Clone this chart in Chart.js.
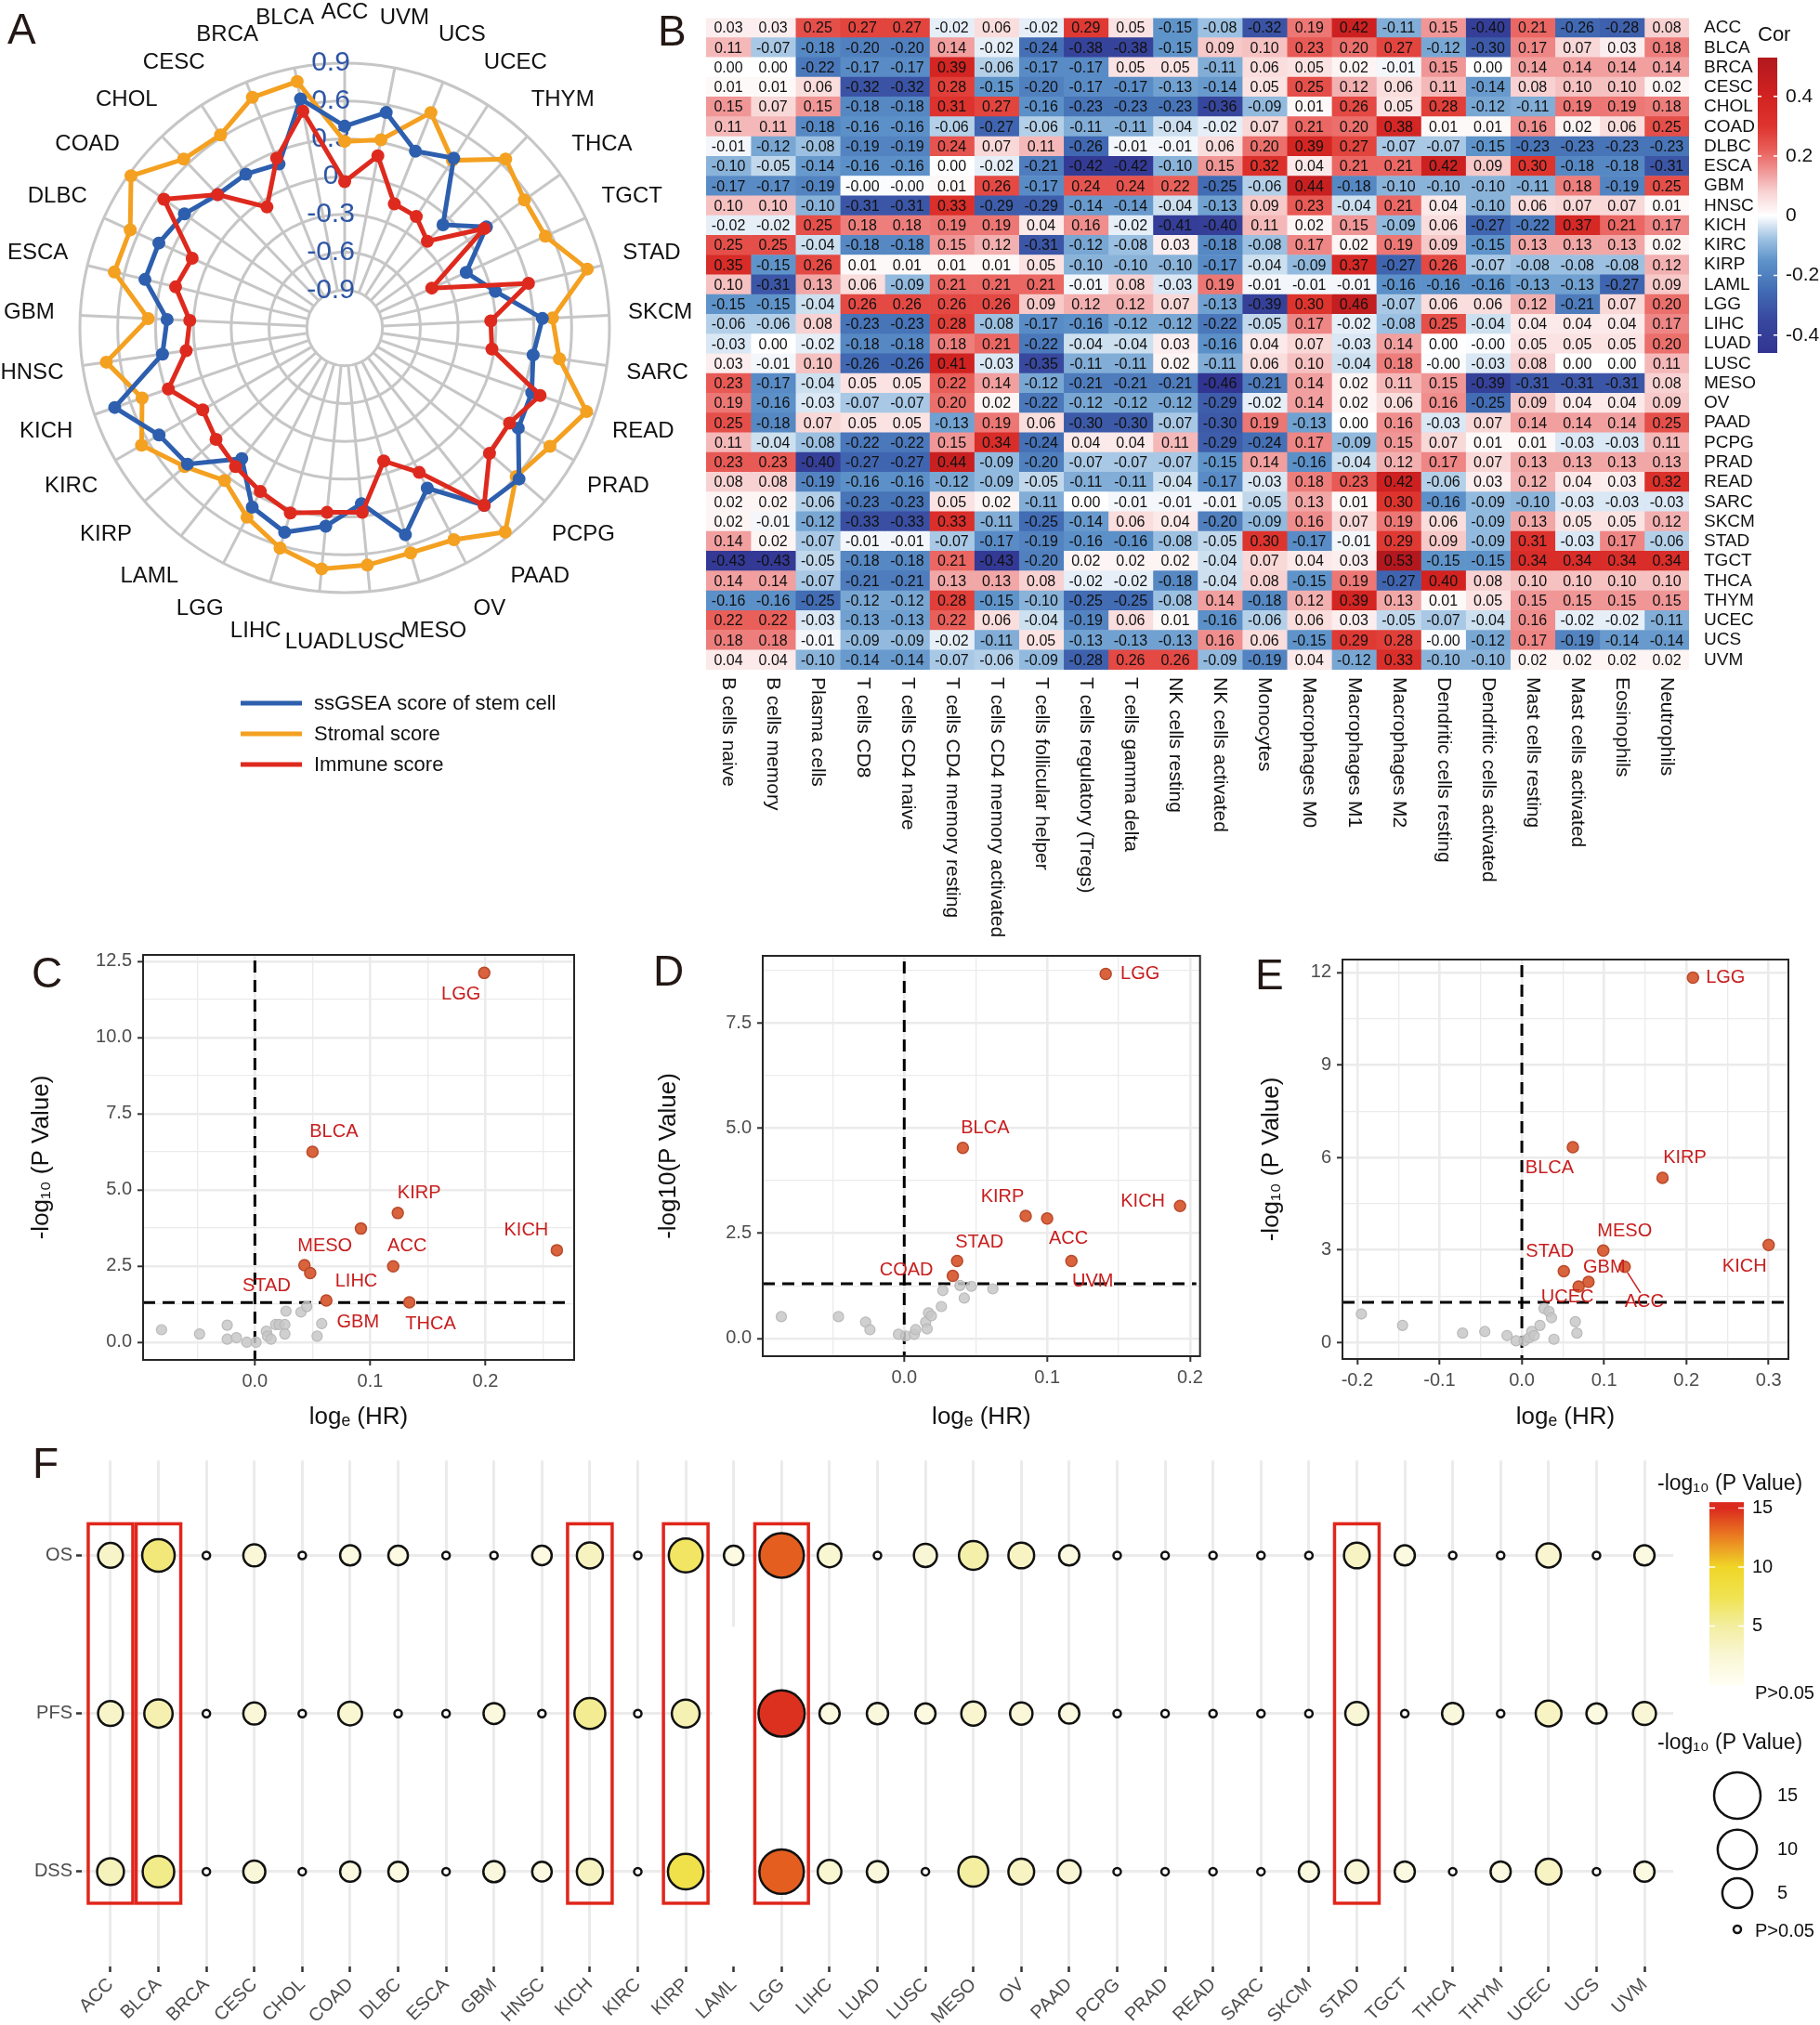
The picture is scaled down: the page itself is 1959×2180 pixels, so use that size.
<!DOCTYPE html>
<html>
<head>
<meta charset="utf-8">
<title>Stemness, immune infiltration and survival across cancers</title>
<script src="https://cdn.jsdelivr.net/npm/chart.js@4.4.1/dist/chart.umd.min.js"></script>
<style>
  html, body { margin: 0; padding: 0; background: #fff; }
  body { position: relative; width: 1959px; height: 2180px; overflow: hidden; font-family: 'Liberation Sans', Arial, sans-serif; }
  canvas { position: absolute; }
  .tag { position: absolute; z-index: 2; font-size: 46px; line-height: 1; color: #231815; }
</style>
</head>
<body>
<canvas id="radar" width="760" height="860" style="left:0;top:0"></canvas>
<canvas id="heat" width="1219" height="1010" style="left:740px;top:0"></canvas>
<canvas id="volC" width="640" height="545" style="left:0;top:1000px"></canvas>
<canvas id="volD" width="660" height="545" style="left:640px;top:1000px"></canvas>
<canvas id="volE" width="659" height="545" style="left:1300px;top:1000px"></canvas>
<canvas id="bubble" width="1959" height="635" style="left:0;top:1545px"></canvas>

<div class="tag" style="left:8px;top:8px">A</div>
<div class="tag" style="left:708px;top:10px">B</div>
<div class="tag" style="left:34px;top:1024px">C</div>
<div class="tag" style="left:703px;top:1022px">D</div>
<div class="tag" style="left:1351px;top:1026px">E</div>
<div class="tag" style="left:35px;top:1552px">F</div>

<script>
const FONT = "'Liberation Sans', Arial, sans-serif";
Chart.defaults.font.family = FONT;
Chart.defaults.color = '#4D4D4D';
Chart.defaults.animation = false;
Chart.defaults.plugins.legend.display = false;
Chart.defaults.plugins.tooltip.enabled = false;

// ---- shared categories ----
const cancers = ['ACC','BLCA','BRCA','CESC','CHOL','COAD','DLBC','ESCA','GBM','HNSC','KICH',
  'KIRC','KIRP','LAML','LGG','LIHC','LUAD','LUSC','MESO','OV','PAAD','PCPG','PRAD','READ',
  'SARC','SKCM','STAD','TGCT','THCA','THYM','UCEC','UCS','UVM'];

// ---- A: correlation with stemness (alphabetical order) ----
const stemScore = [0.40,0.65,0.20,0.25,0.26,0.36,0.42,0.43,0.21,0.26,0.73,0.50,0.45,0.12,0.40,0.49,
  0.38,0.20,0.51,0.23,0.59,0.63,0.39,0.37,0.31,0.37,0.03,-0.14,0.18,-0.07,0.40,0.31,0.54];
const stromalScore = [0.28,0.79,0.77,0.62,0.65,0.88,0.67,0.68,0.36,0.71,0.50,0.66,0.48,0.34,0.49,0.62,
  0.72,0.69,0.66,0.69,0.86,0.60,0.68,0.83,0.52,0.45,0.78,0.55,0.55,0.65,0.38,0.64,0.32];
const immuneScore = [-0.04,0.55,0.25,-0.06,0.26,0.56,0.13,0.18,0.03,0.07,0.28,0.10,0.15,0.20,0.26,0.33,
  0.27,0.27,-0.10,0.09,0.59,0.32,0.31,0.44,-0.02,-0.04,0.30,-0.44,0.16,-0.25,-0.15,-0.14,0.19];
const radarTicks = [-0.9,-0.6,-0.3,0,0.3,0.6,0.9];

// ---- B: correlation with immune cell fractions ----
const cellTypes = ['B cells naive','B cells memory','Plasma cells','T cells CD8','T cells CD4 naive',
  'T cells CD4 memory resting','T cells CD4 memory activated','T cells follicular helper',
  'T cells regulatory (Tregs)','T cells gamma delta','NK cells resting','NK cells activated','Monocytes',
  'Macrophages M0','Macrophages M1','Macrophages M2','Dendritic cells resting','Dendritic cells activated',
  'Mast cells resting','Mast cells activated','Eosinophils','Neutrophils'];
const corrMatrix = [
  [0.03,0.03,0.25,0.27,0.27,-0.02,0.06,-0.02,0.29,0.05,-0.15,-0.08,-0.32,0.19,0.42,-0.11,0.15,-0.40,0.21,-0.26,-0.28,0.08],
  [0.11,-0.07,-0.18,-0.20,-0.20,0.14,-0.02,-0.24,-0.38,-0.38,-0.15,0.09,0.10,0.23,0.20,0.27,-0.12,-0.30,0.17,0.07,0.03,0.18],
  [0.00,0.00,-0.22,-0.17,-0.17,0.39,-0.06,-0.17,-0.17,0.05,0.05,-0.11,0.06,0.05,0.02,-0.01,0.15,0.00,0.14,0.14,0.14,0.14],
  [0.01,0.01,0.06,-0.32,-0.32,0.28,-0.15,-0.20,-0.17,-0.17,-0.13,-0.14,0.05,0.25,0.12,0.06,0.11,-0.14,0.08,0.10,0.10,0.02],
  [0.15,0.07,0.15,-0.18,-0.18,0.31,0.27,-0.16,-0.23,-0.23,-0.23,-0.36,-0.09,0.01,0.26,0.05,0.28,-0.12,-0.11,0.19,0.19,0.18],
  [0.11,0.11,-0.18,-0.16,-0.16,-0.06,-0.27,-0.06,-0.11,-0.11,-0.04,-0.02,0.07,0.21,0.20,0.38,0.01,0.01,0.16,0.02,0.06,0.25],
  [-0.01,-0.12,-0.08,-0.19,-0.19,0.24,0.07,0.11,-0.26,-0.01,-0.01,0.06,0.20,0.39,0.27,-0.07,-0.07,-0.15,-0.23,-0.23,-0.23,-0.23],
  [-0.10,-0.05,-0.14,-0.16,-0.16,0.00,-0.02,-0.21,-0.42,-0.42,-0.10,0.15,0.32,0.04,0.21,0.21,0.42,0.09,0.30,-0.18,-0.18,-0.31],
  [-0.17,-0.17,-0.19,-0.004,-0.004,0.01,0.26,-0.17,0.24,0.24,0.22,-0.25,-0.06,0.44,-0.18,-0.10,-0.10,-0.10,-0.11,0.18,-0.19,0.25],
  [0.10,0.10,-0.10,-0.31,-0.31,0.33,-0.29,-0.29,-0.14,-0.14,-0.04,-0.13,0.09,0.23,-0.04,0.21,0.04,-0.10,0.06,0.07,0.07,0.01],
  [-0.02,-0.02,0.25,0.18,0.18,0.19,0.19,0.04,0.16,-0.02,-0.41,-0.40,0.11,0.02,0.15,-0.09,0.06,-0.27,-0.22,0.37,0.21,0.17],
  [0.25,0.25,-0.04,-0.18,-0.18,0.15,0.12,-0.31,-0.12,-0.08,0.03,-0.18,-0.08,0.17,0.02,0.19,0.09,-0.15,0.13,0.13,0.13,0.02],
  [0.35,-0.15,0.26,0.01,0.01,0.01,0.01,0.05,-0.10,-0.10,-0.10,-0.17,-0.04,-0.09,0.37,-0.27,0.26,-0.07,-0.08,-0.08,-0.08,0.12],
  [0.10,-0.31,0.13,0.06,-0.09,0.21,0.21,0.21,-0.01,0.08,-0.03,0.19,-0.01,-0.01,-0.01,-0.16,-0.16,-0.16,-0.13,-0.13,-0.27,0.09],
  [-0.15,-0.15,-0.04,0.26,0.26,0.26,0.26,0.09,0.12,0.12,0.07,-0.13,-0.39,0.30,0.46,-0.07,0.06,0.06,0.12,-0.21,0.07,0.20],
  [-0.06,-0.06,0.08,-0.23,-0.23,0.28,-0.08,-0.17,-0.16,-0.12,-0.12,-0.22,-0.05,0.17,-0.02,-0.08,0.25,-0.04,0.04,0.04,0.04,0.17],
  [-0.03,0.00,-0.02,-0.18,-0.18,0.18,0.21,-0.22,-0.04,-0.04,0.03,-0.16,0.04,0.07,-0.03,0.14,0.00,-0.004,0.05,0.05,0.05,0.20],
  [0.03,-0.01,0.10,-0.26,-0.26,0.41,-0.03,-0.35,-0.11,-0.11,0.02,-0.11,0.06,0.10,-0.04,0.18,-0.004,-0.03,0.08,0.00,0.00,0.11],
  [0.23,-0.17,-0.04,0.05,0.05,0.22,0.14,-0.12,-0.21,-0.21,-0.21,-0.46,-0.21,0.14,0.02,0.11,0.15,-0.39,-0.31,-0.31,-0.31,0.08],
  [0.19,-0.16,-0.03,-0.07,-0.07,0.20,0.02,-0.22,-0.12,-0.12,-0.12,-0.29,-0.02,0.14,0.02,0.06,0.16,-0.25,0.09,0.04,0.04,0.09],
  [0.25,-0.18,0.07,0.05,0.05,-0.13,0.19,0.06,-0.30,-0.30,-0.07,-0.30,0.19,-0.13,0.00,0.16,-0.03,0.07,0.14,0.14,0.14,0.25],
  [0.11,-0.04,-0.08,-0.22,-0.22,0.15,0.34,-0.24,0.04,0.04,0.11,-0.29,-0.24,0.17,-0.09,0.15,0.07,0.01,0.01,-0.03,-0.03,0.11],
  [0.23,0.23,-0.40,-0.27,-0.27,0.44,-0.09,-0.20,-0.07,-0.07,-0.07,-0.15,0.14,-0.16,-0.04,0.12,0.17,0.07,0.13,0.13,0.13,0.13],
  [0.08,0.08,-0.19,-0.16,-0.16,-0.12,-0.09,-0.05,-0.11,-0.11,-0.04,-0.17,-0.03,0.18,0.23,0.42,-0.06,0.03,0.12,0.04,0.03,0.32],
  [0.02,0.02,-0.06,-0.23,-0.23,0.05,0.02,-0.11,0.00,-0.01,-0.01,-0.01,-0.05,0.13,0.01,0.30,-0.16,-0.09,-0.10,-0.03,-0.03,-0.03],
  [0.02,-0.01,-0.12,-0.33,-0.33,0.33,-0.11,-0.25,-0.14,0.06,0.04,-0.20,-0.09,0.16,0.07,0.19,0.06,-0.09,0.13,0.05,0.05,0.12],
  [0.14,0.02,-0.07,-0.01,-0.01,-0.07,-0.17,-0.19,-0.16,-0.16,-0.08,-0.05,0.30,-0.17,-0.01,0.29,0.09,-0.09,0.31,-0.03,0.17,-0.06],
  [-0.43,-0.43,-0.05,-0.18,-0.18,0.21,-0.43,-0.20,0.02,0.02,0.02,-0.04,0.07,0.04,0.03,0.53,-0.15,-0.15,0.34,0.34,0.34,0.34],
  [0.14,0.14,-0.07,-0.21,-0.21,0.13,0.13,0.08,-0.02,-0.02,-0.18,-0.04,0.08,-0.15,0.19,-0.27,0.40,0.08,0.10,0.10,0.10,0.10],
  [-0.16,-0.16,-0.25,-0.12,-0.12,0.28,-0.15,-0.10,-0.25,-0.25,-0.08,0.14,-0.18,0.12,0.39,0.13,0.01,0.05,0.15,0.15,0.15,0.15],
  [0.22,0.22,-0.03,-0.13,-0.13,0.22,0.06,-0.04,-0.19,0.06,0.01,-0.16,-0.06,0.06,0.03,-0.05,-0.07,-0.04,0.16,-0.02,-0.02,-0.11],
  [0.18,0.18,-0.01,-0.09,-0.09,-0.02,-0.11,0.05,-0.13,-0.13,-0.13,0.16,0.06,-0.15,0.29,0.28,-0.004,-0.12,0.17,-0.19,-0.14,-0.14],
  [0.04,0.04,-0.10,-0.14,-0.14,-0.07,-0.06,-0.09,-0.28,0.26,0.26,-0.09,-0.19,0.04,-0.12,0.33,-0.10,-0.10,0.02,0.02,0.02,0.02]
];
const corrTicks = [0.4, 0.2, 0, -0.2, -0.4];

// ---- C/D/E: log(HR) vs -log10(P) ----
const cSigNames = ['LGG','BLCA','KIRP','LIHC','KICH','MESO','STAD','ACC','GBM','THCA'];
const cSigHr    = [0.199,0.050,0.124,0.092,0.262,0.043,0.048,0.120,0.062,0.134];
const cSigLogP  = [12.12,6.25,4.24,3.73,3.02,2.53,2.27,2.49,1.37,1.31];
const cNsHr   = [-0.081,-0.048,-0.024,-0.024,-0.016,-0.007,0.001,0.010,0.011,0.014,0.018,0.021,0.026,0.026,0.027,0.040,0.045,0.054,0.058];
const cNsLogP = [0.41,0.27,0.56,0.10,0.15,0.00,0.00,0.36,0.20,0.10,0.58,0.58,0.58,0.27,1.02,0.99,1.17,0.20,0.61];

const dSigNames = ['LGG','BLCA','KICH','KIRP','ACC','STAD','UVM','COAD'];
const dSigHr    = [0.141,0.041,0.193,0.085,0.100,0.037,0.117,0.034];
const dSigLogP  = [8.66,4.53,3.15,2.91,2.85,1.84,1.84,1.49];
const dNsHr   = [-0.086,-0.046,-0.027,-0.024,-0.004,0.001,0.007,0.008,0.015,0.016,0.017,0.019,0.026,0.027,0.039,0.042,0.047,0.062];
const dNsLogP = [0.52,0.52,0.39,0.21,0.10,0.06,0.10,0.21,0.39,0.23,0.61,0.54,0.76,1.14,1.26,0.96,1.24,1.18];

const eSigNames = ['LGG','BLCA','KIRP','KICH','MESO','ACC','STAD','GBM','UCEC'];
const eSigHr    = [0.208,0.062,0.171,0.300,0.099,0.125,0.051,0.081,0.069];
const eSigLogP  = [11.83,6.33,5.34,3.16,2.98,2.45,2.31,1.96,1.81];
const eNsHr   = [-0.195,-0.145,-0.072,-0.045,-0.018,-0.007,0.003,0.009,0.012,0.015,0.022,0.027,0.033,0.036,0.039,0.065,0.067];
const eNsLogP = [0.92,0.55,0.30,0.35,0.22,0.05,0.05,0.15,0.35,0.22,0.55,1.10,1.00,0.80,0.10,0.67,0.30];

// ---- F: -log10(P) per survival end point, 0 = P>0.05, null = no data ----
const survRows = ['OS', 'PFS', 'DSS'];
const osLogP  = [3.0,6.2,1.3,2.1,0,1.6,1.45,0,0,1.45,3.4,0,6.9,1.45,13.5,2.6,0,2.4,4.5,3.3,1.6,1.3,0,0,1.3,0,3.3,1.6,1.3,0,2.75,0,1.6];
const pfsLogP = [3.0,4.3,0,2.1,0,2.6,0,0,1.8,0,5.4,1.3,4.1,null,14.8,1.6,1.9,1.6,2.75,2.2,1.6,1.3,0,0,0,0,2.4,0,1.9,0,3.3,1.6,2.4];
const dssLogP = [3.7,5.7,1.3,2.1,0,1.6,1.45,0,1.9,1.45,3.4,0,7.8,null,13.5,2.6,1.9,0,5.0,3.3,2.4,0,0,0,0,1.6,2.4,1.6,0,1.6,3.3,0,1.6];
const highlighted = ['ACC','BLCA','KICH','KIRP','LGG','STAD'];
const sizeKeys = [15, 10, 5];
const colorKeys = [15, 10, 5];

// ---- colour helpers ----
function rampColor(stops, v) {
  if (v <= stops[0][0]) return 'rgb(' + stops[0][1].join(',') + ')';
  for (let i = 1; i < stops.length; i++) {
    if (v <= stops[i][0]) {
      const [v0, c0] = stops[i - 1], [v1, c1] = stops[i];
      const t = (v - v0) / (v1 - v0);
      return 'rgb(' + c0.map((c, k) => Math.round(c + (c1[k] - c) * t)).join(',') + ')';
    }
  }
  return 'rgb(' + stops[stops.length - 1][1].join(',') + ')';
}
const corrStops = [[-0.46,[49,52,145]],[-0.35,[56,72,158]],[-0.25,[66,108,180]],[-0.15,[95,148,202]],
  [-0.08,[155,192,225]],[0,[255,255,255]],[0.08,[248,210,210]],[0.15,[240,150,150]],[0.22,[233,95,90]],
  [0.3,[222,52,46]],[0.4,[210,35,33]],[0.53,[178,24,30]]];
const pStops = [[0,[255,255,244]],[2.5,[249,246,212]],[5,[243,238,160]],[7.5,[240,226,80]],
  [10,[240,214,40]],[12.5,[234,128,34]],[15,[219,42,30]]];
const corrColor = v => rampColor(corrStops, v);
const pColor = v => rampColor(pStops, v);

// ================= A: radar =================
const radarOrder = [0].concat(cancers.map((_, i) => i).slice(1).reverse());
const radarSeries = [
  { label: 'ssGSEA score of stem cell', values: stemScore, color: '#2D5FAE', order: 2 },
  { label: 'Stromal score', values: stromalScore, color: '#F4A020', order: 3 },
  { label: 'Immune score', values: immuneScore, color: '#DE2A1E', order: 1 }
];

const radarDecor = {
  id: 'radarDecor',
  beforeDraw(chart) {
    // spokes run from the inner ring to the outer ring only
    const s = chart.scales.r, ctx = chart.ctx;
    const r0 = s.getDistanceFromCenterForValue(radarTicks[0]);
    const r1 = s.getDistanceFromCenterForValue(radarTicks[radarTicks.length - 1]);
    ctx.save();
    ctx.strokeStyle = '#C6C6C6';
    ctx.lineWidth = 3;
    chart.data.labels.forEach((_, i) => {
      const a = s.getPointPosition(i, r0), b = s.getPointPosition(i, r1);
      ctx.beginPath(); ctx.moveTo(a.x, a.y); ctx.lineTo(b.x, b.y); ctx.stroke();
    });
    ctx.restore();
  },
  afterDraw(chart) {
    const s = chart.scales.r, ctx = chart.ctx;
    const dist = s.getDistanceFromCenterForValue(radarTicks[radarTicks.length - 1]) + 55;
    ctx.save();
    ctx.font = '24px ' + FONT;
    ctx.fillStyle = '#111';
    ctx.textAlign = 'center';
    ctx.textBaseline = 'middle';
    chart.data.labels.forEach((lab, i) => {
      const p = s.getPointPosition(i, dist);
      ctx.fillText(lab, p.x, p.y);
    });
    // legend
    ctx.font = '22px ' + FONT;
    ctx.textAlign = 'left';
    ctx.lineWidth = 5;
    chart.data.datasets.forEach((ds, i) => {
      const y = 757 + i * 33;
      ctx.strokeStyle = ds.borderColor;
      ctx.beginPath(); ctx.moveTo(259, y); ctx.lineTo(325, y); ctx.stroke();
      ctx.fillStyle = '#111';
      ctx.fillText(ds.label, 338, y + 1);
    });
    ctx.restore();
  }
};

new Chart(document.getElementById('radar'), {
  type: 'radar',
  data: {
    labels: radarOrder.map(i => cancers[i]),
    datasets: radarSeries.map(s => ({
      label: s.label,
      data: radarOrder.map(i => s.values[i]),
      borderColor: s.color,
      backgroundColor: s.color,
      pointBackgroundColor: s.color,
      pointBorderWidth: 0,
      pointRadius: 7,
      borderWidth: 5,
      fill: false,
      order: s.order
    }))
  },
  options: {
    responsive: false,
    layout: { padding: { left: 71, right: 89, top: 46, bottom: 199 } },
    scales: {
      r: {
        min: -1.2,
        max: 0.9,
        ticks: {
          stepSize: 0.3,
          color: '#2E55A5',
          font: { family: "'Liberation Sans Narrow', " + FONT, size: 30 },
          showLabelBackdrop: false,
          backdropPadding: 0,
          // ggradar puts the value labels just left of the vertical spoke
          callback: v => v < -1.0 ? '' : (Math.abs(v) < 1e-6 ? '0' : v.toFixed(1)) + '\u2002\u2002'
        },
        grid: { circular: true, color: '#C6C6C6', lineWidth: 3 },
        angleLines: { display: false },
        pointLabels: { display: false }
      }
    }
  },
  plugins: [radarDecor]
});

// ================= B: heatmap =================
const heatDecor = {
  id: 'heatDecor',
  afterDatasetsDraw(chart) {
    const ctx = chart.ctx;
    ctx.save();
    ctx.font = '16px ' + FONT;
    ctx.fillStyle = '#111';
    ctx.textAlign = 'center';
    ctx.textBaseline = 'middle';
    chart.data.datasets.forEach((ds, c) => {
      chart.getDatasetMeta(c).data.forEach((bar, r) => {
        ctx.fillText(corrMatrix[r][c].toFixed(2), (bar.x + bar.base) / 2, bar.y + 1);
      });
    });
    ctx.restore();
  },
  afterDraw(chart) {
    const ctx = chart.ctx, x = chart.scales.x, area = chart.chartArea;
    ctx.save();
    // column labels, reading downwards
    ctx.font = '21px ' + FONT;
    ctx.fillStyle = '#111';
    ctx.textAlign = 'left';
    ctx.textBaseline = 'middle';
    cellTypes.forEach((name, c) => {
      ctx.save();
      ctx.translate(x.getPixelForValue(c + 0.5), area.bottom + 8);
      ctx.rotate(Math.PI / 2);
      ctx.fillText(name, 0, 0);
      ctx.restore();
    });
    // colour bar
    const flat = corrMatrix.flat();
    const vmax = Math.max(...flat), vmin = Math.min(...flat);
    const bx = 1152, bw = 21, top = 62, bottom = 380;
    const yOf = v => top + (vmax - v) / (vmax - vmin) * (bottom - top);
    const grad = ctx.createLinearGradient(0, top, 0, bottom);
    corrStops.forEach(([v, c]) => {
      const t = Math.min(1, Math.max(0, (vmax - v) / (vmax - vmin)));
      grad.addColorStop(t, 'rgb(' + c.join(',') + ')');
    });
    ctx.fillStyle = grad;
    ctx.fillRect(bx, top, bw, bottom - top);
    ctx.strokeStyle = '#fff';
    ctx.lineWidth = 1.5;
    ctx.font = '21px ' + FONT;
    ctx.fillStyle = '#111';
    corrTicks.forEach(v => {
      const y = yOf(v);
      ctx.beginPath(); ctx.moveTo(bx, y); ctx.lineTo(bx + 4, y); ctx.moveTo(bx + bw - 4, y); ctx.lineTo(bx + bw, y); ctx.stroke();
      ctx.fillText(v === 0 ? '0' : v.toFixed(1), bx + bw + 9, y);
    });
    ctx.font = '22px ' + FONT;
    ctx.fillText('Cor', bx, 38);
    ctx.restore();
  }
};

new Chart(document.getElementById('heat'), {
  type: 'bar',
  data: {
    labels: cancers,
    datasets: cellTypes.map((ct, c) => ({
      label: ct,
      data: cancers.map(() => [c, c + 1]),
      backgroundColor: cancers.map((_, r) => corrColor(corrMatrix[r][c])),
      borderWidth: 0,
      barPercentage: 1,
      categoryPercentage: 1,
      grouped: false
    }))
  },
  options: {
    indexAxis: 'y',
    responsive: false,
    layout: { autoPadding: false, padding: { left: 20, top: 0, right: 0, bottom: 0 } },
    scales: {
      x: {
        type: 'linear', min: 0, max: cellTypes.length,
        grid: { display: false }, border: { display: false },
        ticks: { display: false },
        afterFit: s => { s.height = 289; }
      },
      y: {
        type: 'category', position: 'right',
        grid: { display: false }, border: { display: false },
        ticks: { autoSkip: false, color: '#111', font: { size: 19 }, padding: 8 },
        afterFit: s => { s.width = 141; }
      }
    }
  },
  plugins: [heatDecor]
});

// ================= C/D/E: volcano-like scatter =================
function volcanoDecor(names, offsets) {
  return {
    id: 'volcanoDecor',
    beforeDatasetsDraw(chart) {
      const { ctx, chartArea: a, scales: { x, y } } = chart;
      const x0 = x.getPixelForValue(0), yc = y.getPixelForValue(-Math.log10(0.05));
      ctx.save();
      ctx.strokeStyle = '#000';
      ctx.lineWidth = 3;
      ctx.setLineDash([13, 8]);
      ctx.beginPath(); ctx.moveTo(x0, a.top + 6); ctx.lineTo(x0, a.bottom); ctx.stroke();
      ctx.beginPath(); ctx.moveTo(a.left, yc); ctx.lineTo(a.right - 4, yc); ctx.stroke();
      ctx.restore();
    },
    afterDatasetsDraw(chart) {
      const { ctx, chartArea: a } = chart;
      const meta = chart.getDatasetMeta(1);
      ctx.save();
      ctx.font = '20px ' + FONT;
      ctx.fillStyle = '#C81E1E';
      ctx.strokeStyle = '#C81E1E';
      ctx.lineWidth = 1.5;
      ctx.textAlign = 'center';
      ctx.textBaseline = 'middle';
      names.forEach((n, i) => {
        const p = meta.data[i];
        const off = offsets[n] || [0, -22];
        const lx = p.x + off[0], ly = p.y + off[1];
        if (off[2]) {
          ctx.beginPath(); ctx.moveTo(p.x + 3, p.y + 6); ctx.lineTo(lx - 4, ly - 10); ctx.stroke();
        }
        ctx.fillText(n, lx, ly);
      });
      ctx.strokeStyle = '#262626';
      ctx.lineWidth = 2;
      ctx.strokeRect(a.left, a.top, a.right - a.left, a.bottom - a.top);
      ctx.restore();
    }
  };
}

function volcano(id, o) {
  const isMajor = (list, v) => list.some(m => Math.abs(m - v) < 1e-9);
  const gridOpts = list => ({
    color: '#EBEBEB',
    lineWidth: c => (c.tick && isMajor(list, c.tick.value)) ? 2.6 : 1.3,
    tickColor: c => (c.tick && isMajor(list, c.tick.value)) ? '#333333' : 'rgba(0,0,0,0)',
    tickLength: 6,
    tickWidth: 2
  });
  const tickList = (a, b) => a.concat(b).sort((p, q) => p - q).map(value => ({ value }));
  return new Chart(document.getElementById(id), {
    type: 'scatter',
    data: {
      datasets: [
        { data: o.nsHr.map((x, i) => ({ x, y: o.nsP[i] })), backgroundColor: 'rgba(200,200,200,0.85)',
          borderColor: '#B9B9B9', borderWidth: 1.2, pointRadius: 5.5 },
        { data: o.sigHr.map((x, i) => ({ x, y: o.sigP[i] })), backgroundColor: '#D9633D',
          borderColor: '#B94A2B', borderWidth: 1.5, pointRadius: 6 }
      ]
    },
    options: {
      responsive: false,
      layout: { padding: { top: o.padTop, right: o.padRight, left: 0, bottom: 0 } },
      scales: {
        x: {
          type: 'linear', min: o.xMin, max: o.xMax,
          afterBuildTicks: s => { s.ticks = tickList(o.xMajor, o.xMinor); },
          ticks: { autoSkip: false, maxRotation: 0, color: '#4D4D4D', font: { size: 20 }, padding: 5,
                   callback: v => isMajor(o.xMajor, v) ? o.xFmt(v) : '' },
          grid: gridOpts(o.xMajor),
          border: { display: false },
          title: { display: true, text: 'logₑ (HR)', color: '#111', font: { size: 26 }, padding: { top: 0, bottom: 4 } },
          afterFit: s => { s.height = o.xAxisH; }
        },
        y: {
          type: 'linear', min: o.yMin, max: o.yMax,
          afterBuildTicks: s => { s.ticks = tickList(o.yMajor, o.yMinor); },
          ticks: { autoSkip: false, color: '#4D4D4D', font: { size: 20 }, padding: 6,
                   callback: v => isMajor(o.yMajor, v) ? o.yFmt(v) : '' },
          grid: gridOpts(o.yMajor),
          border: { display: false },
          title: { display: true, text: o.yTitle, color: '#111', font: { size: 26 }, padding: { top: o.yTitlePad, bottom: 0 } },
          afterFit: s => { s.width = o.yAxisW; }
        }
      }
    },
    plugins: [volcanoDecor(o.sigNames, o.offsets)]
  });
}

volcano('volC', {
  sigNames: cSigNames, sigHr: cSigHr, sigP: cSigLogP, nsHr: cNsHr, nsP: cNsLogP,
  xMin: -0.097, xMax: 0.277, xMajor: [0, 0.1, 0.2], xMinor: [-0.05, 0.05, 0.15, 0.25], xFmt: v => v.toFixed(1),
  yMin: -0.58, yMax: 12.71, yMajor: [0, 2.5, 5, 7.5, 10, 12.5], yMinor: [1.25, 3.75, 6.25, 8.75, 11.25], yFmt: v => v.toFixed(1),
  yTitle: '-log₁₀ (P Value)', yTitlePad: 29, yAxisW: 154, xAxisH: 81, padTop: 28, padRight: 22,
  offsets: { LGG: [-25, 23], BLCA: [23, -21], KIRP: [23, -21], LIHC: [-5, 57], KICH: [-33, -21],
             MESO: [22, -20], STAD: [-47, 14], ACC: [15, -22], GBM: [34, 23], THCA: [23, 23] }
});

volcano('volD', {
  sigNames: dSigNames, sigHr: dSigHr, sigP: dSigLogP, nsHr: dNsHr, nsP: dNsLogP,
  xMin: -0.099, xMax: 0.207, xMajor: [0, 0.1, 0.2], xMinor: [-0.05, 0.05, 0.15], xFmt: v => v.toFixed(1),
  yMin: -0.42, yMax: 9.09, yMajor: [0, 2.5, 5, 7.5], yMinor: [1.25, 3.75, 6.25, 8.75], yFmt: v => v.toFixed(1),
  yTitle: '-log10(P Value)', yTitlePad: 64, yAxisW: 181, xAxisH: 85, padTop: 29, padRight: 4,
  offsets: { LGG: [37, 0], BLCA: [24, -21], KIRP: [-25, -21], ACC: [23, 22], KICH: [-40, -5],
             STAD: [24, -20], UVM: [23, 22], COAD: [-50, -6] }
});

volcano('volE', {
  sigNames: eSigNames, sigHr: eSigHr, sigP: eSigLogP, nsHr: eNsHr, nsP: eNsLogP,
  xMin: -0.218, xMax: 0.324, xMajor: [-0.2, -0.1, 0, 0.1, 0.2, 0.3], xMinor: [-0.15, -0.05, 0.05, 0.15, 0.25], xFmt: v => v.toFixed(1),
  yMin: -0.54, yMax: 12.42, yMajor: [0, 3, 6, 9, 12], yMinor: [1.5, 4.5, 7.5, 10.5], yFmt: v => String(v),
  yTitle: '-log₁₀ (P Value)', yTitlePad: 53, yAxisW: 145, xAxisH: 82, padTop: 33, padRight: 34,
  offsets: { LGG: [35, 0], BLCA: [-25, 22], KIRP: [24, -21], KICH: [-26, 23], MESO: [23, -21],
             ACC: [21, 38, true], STAD: [-15, -21], GBM: [17, -16], UCEC: [-12, 11] }
});

// ================= F: bubble matrix =================
const sigCut = -Math.log10(0.05);
const bubbleRadius = v => v < sigCut ? 4 : 4 + 21 * Math.sqrt(v / 15);
const survLogP = [osLogP, pfsLogP, dssLogP];
const bubblePoints = [];
survLogP.forEach((vals, row) => vals.forEach((v, i) => {
  if (v !== null) bubblePoints.push({ x: i, y: row, r: bubbleRadius(v), v });
}));

const bubbleDecor = {
  id: 'bubbleDecor',
  beforeDatasetsDraw(chart) {
    // blank the grid where a cancer has no PFS/DSS data
    const { ctx, chartArea: a, scales: { x, y } } = chart;
    ctx.save();
    ctx.fillStyle = '#fff';
    cancers.forEach((c, i) => {
      if (pfsLogP[i] === null && dssLogP[i] === null) {
        const l = x.getPixelForValue(i - 0.45), r = x.getPixelForValue(i + 0.45);
        const t = y.getPixelForValue(0.45);
        ctx.fillRect(l, t, r - l, a.bottom - t);
      }
    });
    ctx.restore();
  },
  afterDatasetsDraw(chart) {
    const { ctx, scales: { x, y } } = chart;
    ctx.save();
    ctx.strokeStyle = '#E0261C';
    ctx.lineWidth = 3.5;
    highlighted.forEach(name => {
      const i = cancers.indexOf(name);
      const rmax = Math.max(...survLogP.map(vals => vals[i] === null ? 0 : bubbleRadius(vals[i])));
      const half = Math.max(24, rmax + 4);
      const cx = x.getPixelForValue(i);
      const t = y.getPixelForValue(-0.2), b = y.getPixelForValue(2.2);
      ctx.strokeRect(cx - half, t, half * 2, b - t);
    });
    ctx.restore();
  },
  afterDraw(chart) {
    const ctx = chart.ctx;
    ctx.save();
    ctx.fillStyle = '#111';
    ctx.textBaseline = 'middle';
    ctx.textAlign = 'left';
    const title = '-log₁₀ (P Value)';
    ctx.font = '23px ' + FONT;
    ctx.fillText(title, 1784, 53);
    // colour bar
    const bx = 1840, bw = 37, y0 = 269, k = 12.7;
    const top = y0 - 15.5 * k;
    const grad = ctx.createLinearGradient(0, y0, 0, top);
    pStops.forEach(([v, c]) => grad.addColorStop(Math.min(1, v / 15.5), 'rgb(' + c.join(',') + ')'));
    ctx.fillStyle = grad;
    ctx.fillRect(bx, top, bw, y0 - top);
    ctx.strokeStyle = '#fff';
    ctx.lineWidth = 1.5;
    ctx.font = '20px ' + FONT;
    ctx.fillStyle = '#111';
    colorKeys.forEach(v => {
      const y = y0 - v * k;
      ctx.beginPath(); ctx.moveTo(bx, y); ctx.lineTo(bx + 6, y); ctx.moveTo(bx + bw - 6, y); ctx.lineTo(bx + bw, y); ctx.stroke();
      ctx.fillText(String(v), bx + bw + 9, y);
    });
    ctx.fillText('P>0.05', 1889, 278);
    // size legend
    ctx.font = '23px ' + FONT;
    ctx.fillText(title, 1784, 332);
    ctx.font = '20px ' + FONT;
    ctx.strokeStyle = '#111';
    ctx.lineWidth = 2.5;
    const keyY = [388, 446, 493];
    sizeKeys.forEach((v, i) => {
      ctx.beginPath(); ctx.arc(1870, keyY[i], bubbleRadius(v), 0, Math.PI * 2);
      ctx.fillStyle = '#fff'; ctx.fill(); ctx.stroke();
      ctx.fillStyle = '#111';
      ctx.fillText(String(v), 1913, keyY[i]);
    });
    ctx.beginPath(); ctx.arc(1870, 532, bubbleRadius(0), 0, Math.PI * 2);
    ctx.fillStyle = '#fff'; ctx.fill(); ctx.stroke();
    ctx.fillStyle = '#111';
    ctx.fillText('P>0.05', 1889, 534);
    ctx.restore();
  }
};

new Chart(document.getElementById('bubble'), {
  type: 'bubble',
  data: {
    datasets: [{
      data: bubblePoints,
      backgroundColor: c => (c.raw && c.raw.v >= sigCut) ? pColor(c.raw.v) : '#FFFFFF',
      borderColor: '#111',
      borderWidth: 2.5
    }]
  },
  options: {
    responsive: false,
    layout: { padding: { left: 0, right: 158, top: 13, bottom: 0 } },
    scales: {
      x: {
        type: 'linear', min: -0.6, max: cancers.length - 0.4,
        afterBuildTicks: s => { s.ticks = cancers.map((_, i) => ({ value: i })); },
        ticks: { autoSkip: false, minRotation: 45, maxRotation: 45, color: '#4D4D4D', font: { size: 20 }, padding: 2,
                 callback: v => cancers[v] },
        grid: { color: '#EBEBEB', lineWidth: 3, tickColor: '#333', tickLength: 6, tickWidth: 2.5 },
        border: { display: false },
        afterFit: s => { s.height = 63; }
      },
      y: {
        type: 'linear', min: -0.6, max: 2.6, reverse: true,
        afterBuildTicks: s => { s.ticks = survRows.map((_, i) => ({ value: i })); },
        ticks: { color: '#4D4D4D', font: { size: 20 }, padding: 4, callback: v => survRows[v] },
        grid: { color: '#EBEBEB', lineWidth: 3, tickColor: '#333', tickLength: 6, tickWidth: 2.5 },
        border: { display: false },
        afterFit: s => { s.width = 88; }
      }
    }
  },
  plugins: [bubbleDecor]
});
</script>
</body>
</html>
